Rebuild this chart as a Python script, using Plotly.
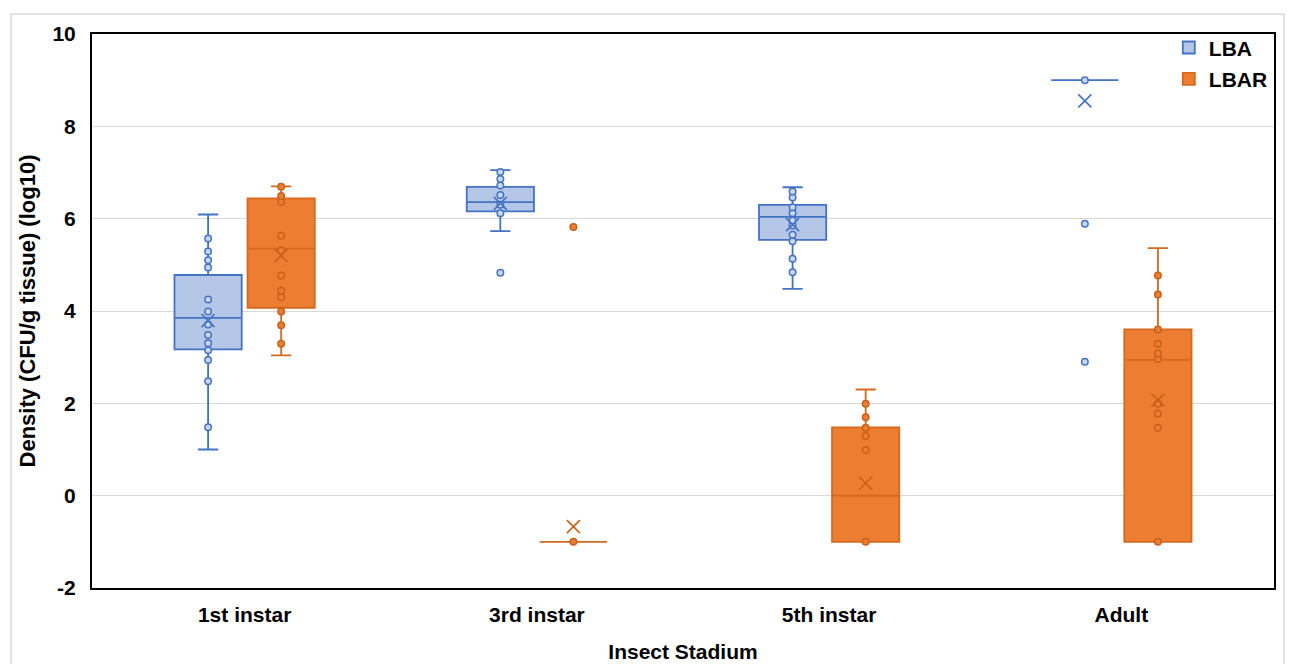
import plotly.graph_objects as go

# ---------------- data ----------------
categories = ["1st instar", "3rd instar", "5th instar", "Adult"]
series_names = ["LBA", "LBAR"]

# box statistics (Excel box & whisker)
lba_q1 = [3.17, 6.16, 5.54, 9.0]
lba_median = [3.85, 6.36, 6.04, 9.0]
lba_q3 = [4.78, 6.69, 6.30, 9.0]
lba_lower = [1.00, 5.73, 4.48, 9.0]
lba_upper = [6.09, 7.05, 6.68, 9.0]
lba_mean = [3.79, 6.33, 5.87, 8.55]

lbar_q1 = [4.07, -1.0, -1.0, -1.0]
lbar_median = [5.35, -1.0, 0.0, 2.94]
lbar_q3 = [6.44, -1.0, 1.48, 3.60]
lbar_lower = [3.04, -1.0, -1.0, -1.0]
lbar_upper = [6.70, -1.0, 2.30, 5.36]
lbar_mean = [5.20, -0.67, 0.27, 2.07]

# individual sample points shown on the chart
lba_pts_1st = [5.57, 5.29, 5.10, 4.94, 4.25, 3.99, 3.71, 3.48, 3.30, 3.15, 2.94, 2.48, 1.48]
lba_pts_3rd = [7.01, 6.86, 6.72, 6.51, 6.30, 6.12, 4.83]
lba_pts_5th = [6.59, 6.46, 6.25, 6.12, 5.96, 5.85, 5.65, 5.51, 5.13, 4.84]
lba_pts_adult = [9.0, 5.89, 2.90]

lbar_pts_1st = [6.69, 6.49, 6.36, 5.63, 5.31, 4.77, 4.44, 4.30, 3.99, 3.69, 3.29]
lbar_pts_3rd = [5.82, -1.0]
lbar_pts_5th = [1.99, 1.70, 1.47, 1.29, 0.99, -1.0]
lbar_pts_adult = [4.77, 4.36, 3.60, 3.29, 3.08, 2.96, 1.99, 1.78, 1.47, -1.0]

y_tick_vals = [-2, 0, 2, 4, 6, 8, 10]
y_tick_text = ["-2", "0", "2", "4", "6", "8", "10"]

x_title = "Insect Stadium"
y_title = "Density (CFU/g tissue) (log10)"

# ---------------- styles ----------------
FONT = "Liberation Sans, Arial, sans-serif"
styles = {
    "LBA": dict(fill="#B4C7E7", line="#4472C4", pt_fill="#C9D7EE", pt_line="#4472C4", mean="#4472C4"),
    "LBAR": dict(fill="#ED7D31", line="#D4691F", pt_fill="#ED7D31", pt_line="#C9611B", mean="#C9611B"),
}

series = {
    "LBA": dict(q1=lba_q1, median=lba_median, q3=lba_q3, lower=lba_lower, upper=lba_upper,
                mean=lba_mean, pts=[lba_pts_1st, lba_pts_3rd, lba_pts_5th, lba_pts_adult]),
    "LBAR": dict(q1=lbar_q1, median=lbar_median, q3=lbar_q3, lower=lbar_lower, upper=lbar_upper,
                 mean=lbar_mean, pts=[lbar_pts_1st, lbar_pts_3rd, lbar_pts_5th, lbar_pts_adult]),
}

fig = go.Figure()
for name in series_names:
    d = series[name]
    st = styles[name]
    # the boxes
    fig.add_trace(go.Box(
        name=name, x=categories, q1=d["q1"], median=d["median"], q3=d["q3"],
        lowerfence=d["lower"], upperfence=d["upper"],
        fillcolor=st["fill"], line=dict(color=st["line"], width=1.8),
        whiskerwidth=0.3, boxpoints=False,
        offsetgroup=name, alignmentgroup="g", legendgroup=name,
        hoverinfo="skip", showlegend=True,
    ))
    # the sample points
    xs, ys = [], []
    for cat, vals in zip(categories, d["pts"]):
        xs += [cat] * len(vals)
        ys += vals
    fig.add_trace(go.Box(
        name=name, x=xs, y=ys, boxpoints="all", jitter=0, pointpos=0,
        fillcolor="rgba(0,0,0,0)", line=dict(color="rgba(0,0,0,0)", width=0),
        marker=dict(size=6.5, color=st["pt_fill"], line=dict(color=st["pt_line"], width=1.5)),
        offsetgroup=name, alignmentgroup="g", legendgroup=name,
        hoverinfo="skip", showlegend=False,
    ))
    # the mean markers
    fig.add_trace(go.Box(
        name=name, x=categories, y=d["mean"], boxpoints="all", jitter=0, pointpos=0,
        fillcolor="rgba(0,0,0,0)", line=dict(color="rgba(0,0,0,0)", width=0),
        marker=dict(symbol="x-thin-open", size=13, color=st["mean"],
                    line=dict(color=st["mean"], width=1.6)),
        offsetgroup=name, alignmentgroup="g", legendgroup=name,
        hoverinfo="skip", showlegend=False,
    ))

fig.update_layout(
    width=1290, height=664,
    margin=dict(l=92, r=16, t=34, b=76),
    paper_bgcolor="white", plot_bgcolor="white",
    boxmode="group", boxgap=0.5, boxgroupgap=0.08,
    font=dict(family=FONT, size=21, color="black", weight="bold"),
    legend=dict(x=0.911, y=1.012, xanchor="left", yanchor="top",
                bgcolor="rgba(0,0,0,0)", font=dict(size=21, family=FONT, weight="bold"),
                tracegroupgap=1, itemwidth=30),
    shapes=[dict(type="rect", xref="paper", yref="paper",
                 x0=-0.0685, x1=1.0085, y0=-0.14, y1=1.036,
                 line=dict(color="#D9D9D9", width=1.5), layer="below")],
)
fig.update_xaxes(
    type="category", categoryorder="array", categoryarray=categories,
    showline=True, mirror=True, linecolor="black", linewidth=2,
    showgrid=False, ticks="", ticklabelstandoff=7, automargin=False,
    tickfont=dict(size=21, family=FONT, weight="bold"),
    title=dict(text=x_title, standoff=19, font=dict(size=21, family=FONT, weight="bold")),
)
fig.update_yaxes(
    range=[-2, 10], tickvals=y_tick_vals, ticktext=y_tick_text,
    showline=True, mirror=True, linecolor="black", linewidth=2,
    showgrid=True, gridcolor="#D9D9D9", gridwidth=1, zeroline=False,
    ticks="", ticklabelstandoff=10, automargin=False,
    tickfont=dict(size=21, family=FONT, weight="bold"),
    title=dict(text=y_title, standoff=11, font=dict(size=22, family=FONT, weight="bold")),
)

fig.write_html("out.html", config={"displayModeBar": False},
               post_script="document.body.style.margin='0';")
